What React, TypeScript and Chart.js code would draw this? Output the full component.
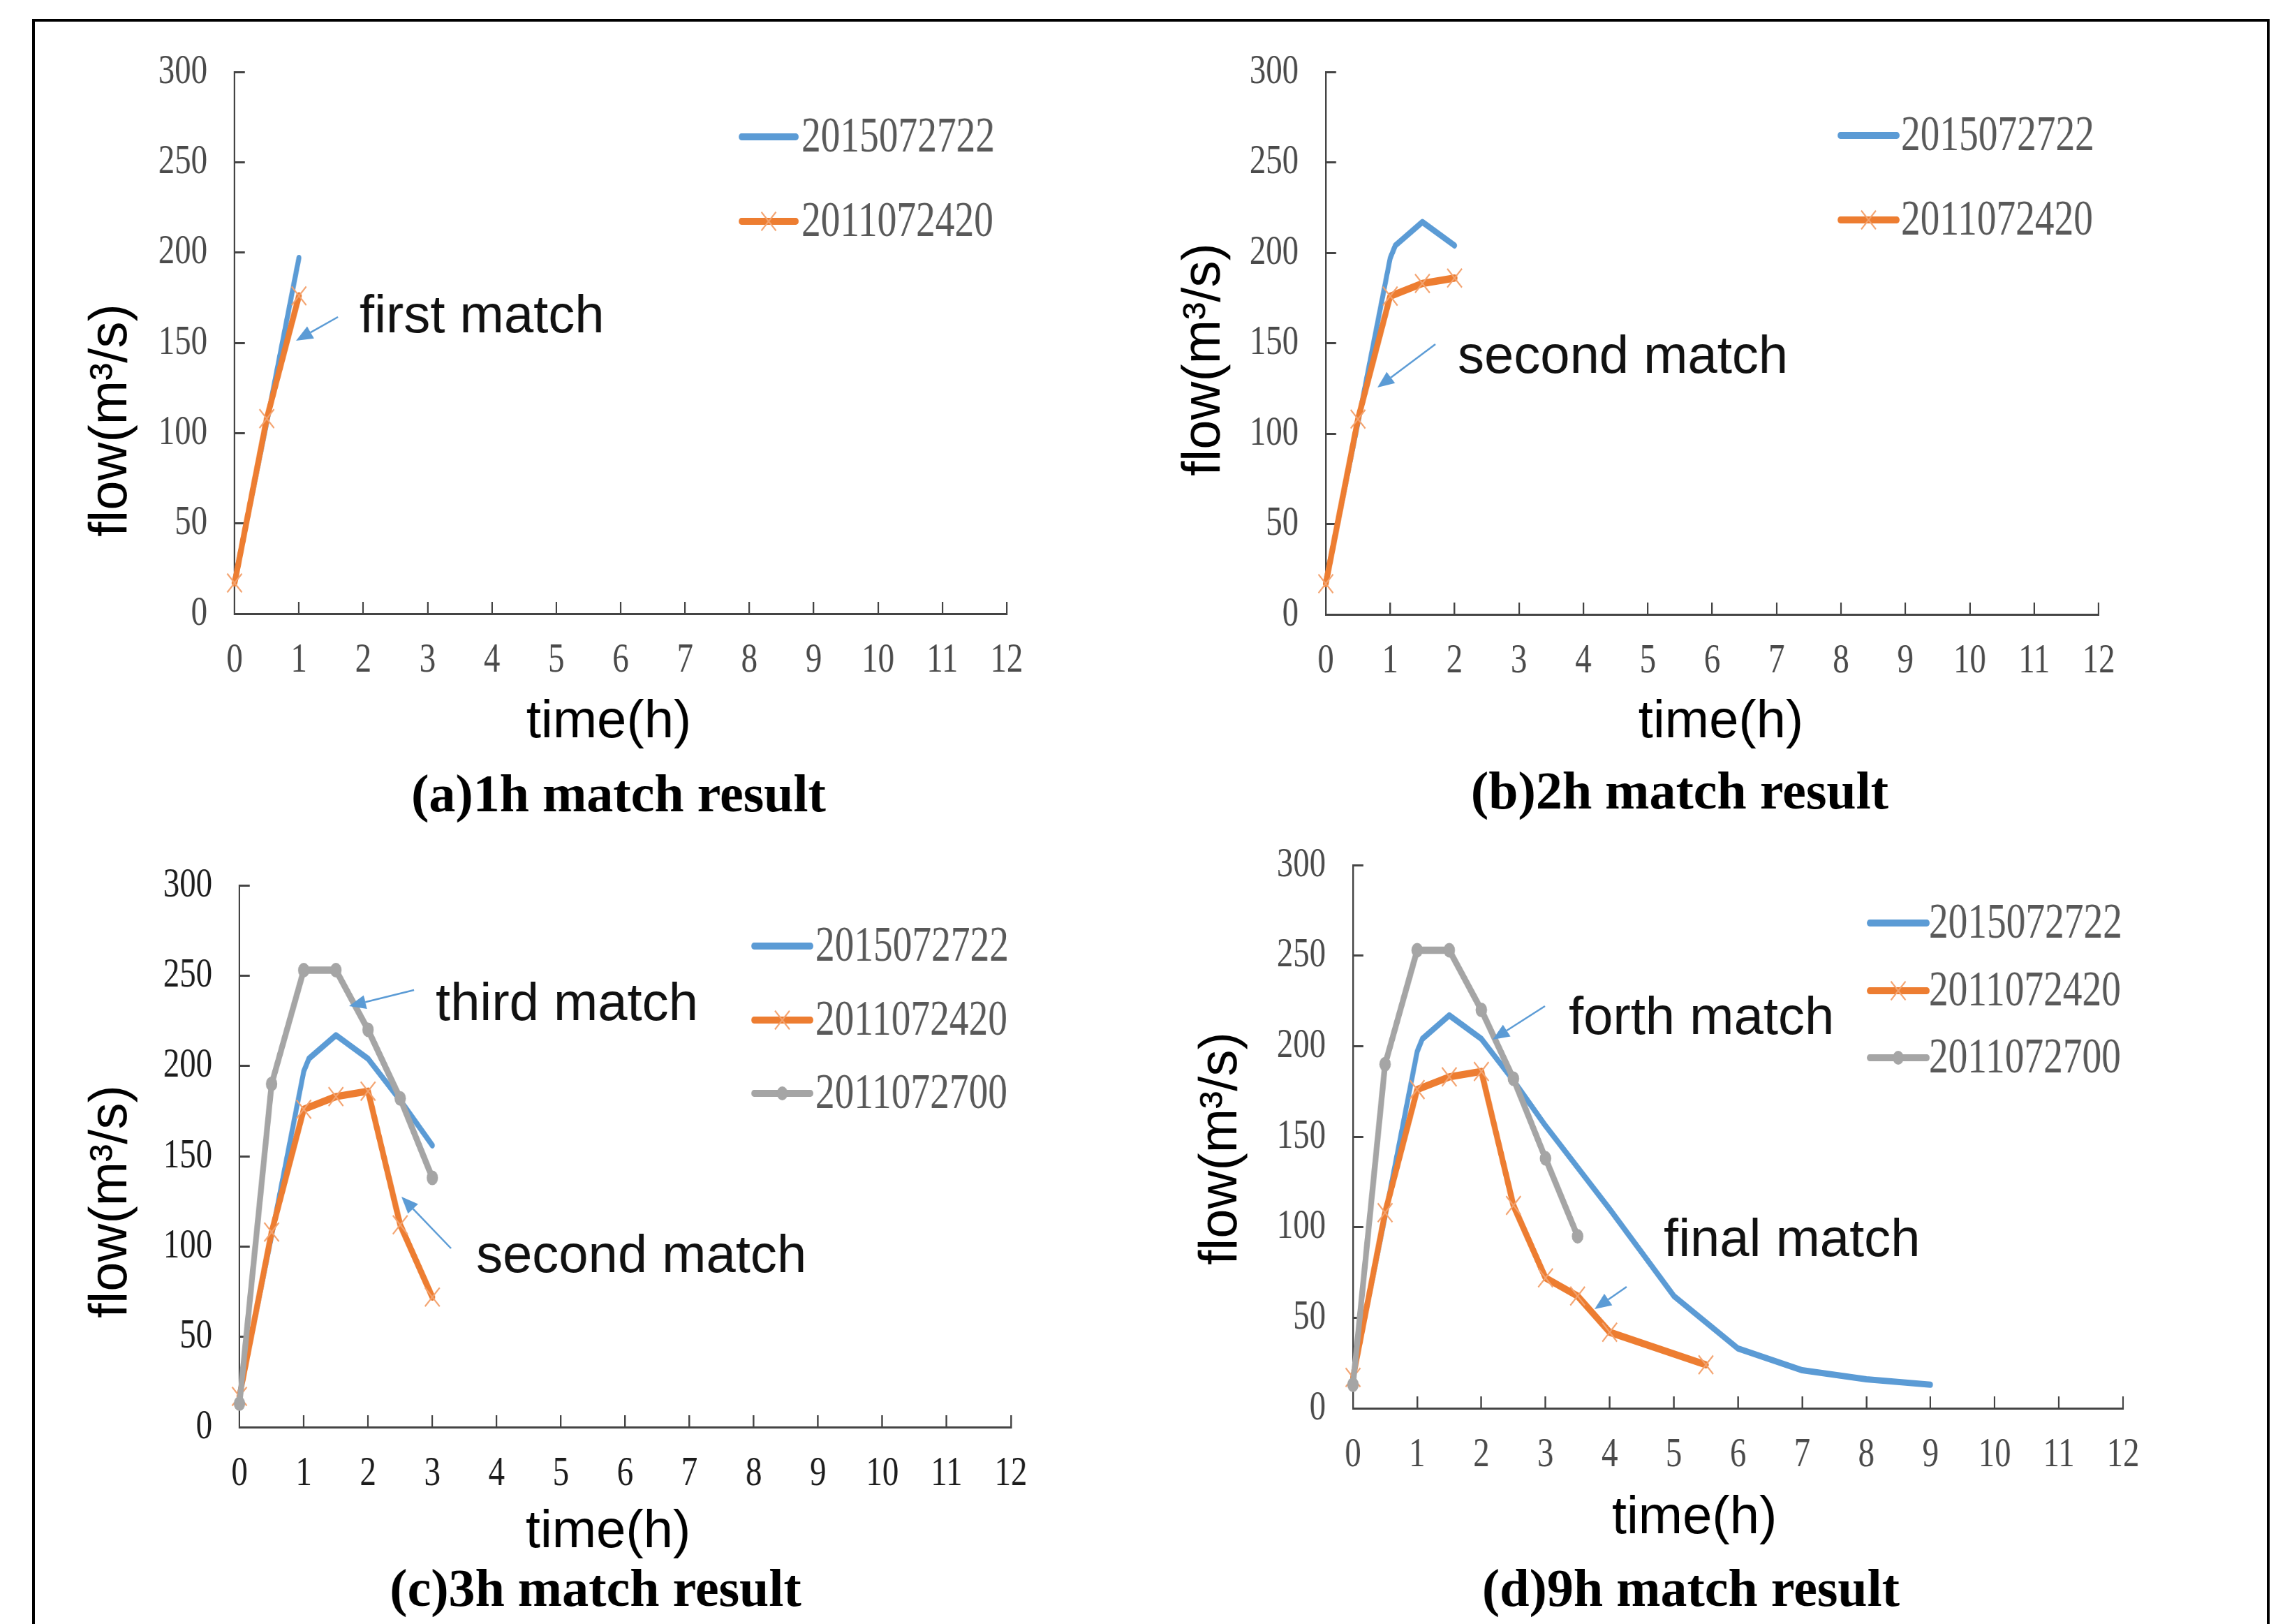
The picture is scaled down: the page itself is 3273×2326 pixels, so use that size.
import React, { useEffect, useRef } from "react";
import { Chart, registerables } from "chart.js";

Chart.register(...registerables);

// ---------------- data ----------------
const seriesNames = ["2015072722", "2011072420", "2011072700"];

const timeTicks = [0, 1, 2, 3, 4, 5, 6, 7, 8, 9, 10, 11, 12];
const flowTicks = [0, 50, 100, 150, 200, 250, 300];

const blueTimes = [0, 0.5, 1, 1.08, 1.5, 2, 2.5, 3, 4, 5, 6, 7, 8, 9];
const blueFlow = [18, 106, 197, 204, 217, 204, 181, 156, 110, 62, 33, 21, 16, 13];

const orangeTimes = [0, 0.5, 1, 1.5, 2, 2.5, 3, 3.5, 4, 5.5];
const orangeFlow = [17, 108, 176, 183, 186, 112, 72, 62, 42, 24];

const grayTimes = [0, 0.5, 1, 1.5, 2, 2.5, 3, 3.5];
const grayFlow = [13, 190, 253, 253, 220, 182, 138, 95];

// ---------------- styling ----------------
const PAGE_W = 3273;
const PAGE_H = 2326;
const SX = 0.78; // horizontal squeeze of the original chart graphics
const Y_BOX = 200;
const X_BOX = 120;

const BLUE = "#5B9BD5";
const ORANGE = "#ED7D31";
const ORANGE_MARK = "#F3A26E";
const GRAY = "#A5A5A5";
const AXIS = "#444444";
const SERIES_COLORS = [BLUE, ORANGE, GRAY];

type Note = { text: string; x: number; baseline: number; arrow: [number, number, number, number] };
type Panel = {
  id: string;
  qx: number; qy: number; qw: number; qh: number;
  maxT: number;
  nSeries: number;
  x0: number; x12: number; y0: number; y300: number;
  tickColor: string;
  legendLine: [number, number];
  legendTextX: number;
  legendRows: number[];
  notes: Note[];
  timeTitle: [number, number];
  flowTitle: [number, number];
  caption: string;
  captionPos: [number, number];
};

const panels: Panel[] = [
  {
    id: "a", qx: 0, qy: 0, qw: 1636, qh: 1190, maxT: 1, nSeries: 2,
    x0: 336, x12: 1442, y0: 879, y300: 103, tickColor: "#4a4a4a",
    legendLine: [1062, 1140], legendTextX: 1148, legendRows: [196, 317],
    notes: [{ text: "first match", x: 515, baseline: 476, arrow: [484, 454, 424, 488] }],
    timeTitle: [872, 1035], flowTitle: [160, 602],
    caption: "(a)1h match result", captionPos: [886, 1142],
  },
  {
    id: "b", qx: 1636, qy: 0, qw: 1637, qh: 1190, maxT: 2, nSeries: 2,
    x0: 1899, x12: 3006, y0: 880, y300: 103, tickColor: "#4a4a4a",
    legendLine: [2636, 2717], legendTextX: 2723, legendRows: [194, 315],
    notes: [{ text: "second match", x: 2088, baseline: 534, arrow: [2056, 493, 1973, 555] }],
    timeTitle: [2465, 1035], flowTitle: [1726, 515],
    caption: "(b)2h match result", captionPos: [2406, 1138],
  },
  {
    id: "c", qx: 0, qy: 1190, qw: 1636, qh: 1136, maxT: 3, nSeries: 3,
    x0: 343, x12: 1448, y0: 2044, y300: 1268, tickColor: "#1c1c1c",
    legendLine: [1080, 1161], legendTextX: 1168, legendRows: [1355, 1461, 1566],
    notes: [
      { text: "third match", x: 624, baseline: 1461, arrow: [593, 1418, 500, 1441] },
      { text: "second match", x: 682, baseline: 1822, arrow: [646, 1788, 575, 1714] },
    ],
    timeTitle: [871, 2195], flowTitle: [160, 1721],
    caption: "(c)3h match result", captionPos: [853, 2280],
  },
  {
    id: "d", qx: 1636, qy: 1190, qw: 1637, qh: 1136, maxT: 9, nSeries: 3,
    x0: 1938, x12: 3041, y0: 2017, y300: 1239, tickColor: "#4a4a4a",
    legendLine: [2678, 2760], legendTextX: 2763, legendRows: [1322, 1419, 1515],
    notes: [
      { text: "forth match", x: 2247, baseline: 1481, arrow: [2213, 1441, 2138, 1489] },
      { text: "final match", x: 2383, baseline: 1799, arrow: [2330, 1843, 2284, 1875] },
    ],
    timeTitle: [2427, 2175], flowTitle: [1750, 1645],
    caption: "(d)9h match result", captionPos: [2422, 2280],
  },
];

function pointsUpTo(times: number[], flows: number[], maxT: number) {
  const pts: { x: number; y: number }[] = [];
  for (let i = 0; i < times.length; i++) {
    if (times[i] <= maxT + 1e-9) pts.push({ x: times[i], y: flows[i] });
  }
  return pts;
}

function overlayPlugin(p: Panel, sx: number) {
  return {
    id: "overlay_" + p.id,
    afterDraw(chart: any) {
      const ctx: CanvasRenderingContext2D = chart.ctx;
      const cx = (px: number) => (px - p.qx) / sx;
      const cy = (py: number) => py - p.qy;

      // legend (drawn in squeezed chart space)
      ctx.save();
      for (let i = 0; i < p.nSeries; i++) {
        const y = cy(p.legendRows[i]);
        const x1 = cx(p.legendLine[0]);
        const x2 = cx(p.legendLine[1]);
        ctx.strokeStyle = SERIES_COLORS[i];
        ctx.lineWidth = 10;
        ctx.lineCap = "round";
        ctx.beginPath();
        ctx.moveTo(x1, y);
        ctx.lineTo(x2, y);
        ctx.stroke();
        const mx = (x1 + x2) / 2;
        if (i === 1) {
          const r = 19 * Math.SQRT1_2;
          ctx.strokeStyle = ORANGE_MARK;
          ctx.lineWidth = 2.5;
          ctx.lineCap = "butt";
          ctx.beginPath();
          ctx.moveTo(mx - r, y - r);
          ctx.lineTo(mx + r, y + r);
          ctx.moveTo(mx - r, y + r);
          ctx.lineTo(mx + r, y - r);
          ctx.stroke();
        } else if (i === 2) {
          ctx.fillStyle = GRAY;
          ctx.beginPath();
          ctx.arc(mx, y, 10, 0, Math.PI * 2);
          ctx.fill();
        }
        ctx.fillStyle = "#595959";
        ctx.font = '71px "Liberation Serif", "Times New Roman", serif';
        ctx.textAlign = "left";
        ctx.textBaseline = "middle";
        ctx.fillText(seriesNames[i], cx(p.legendTextX), y + 2);
      }
      ctx.restore();

      // unsqueezed texts and arrows, in page coordinates
      ctx.save();
      ctx.scale(1 / sx, 1);
      ctx.translate(-p.qx, -p.qy);

      const sans = '76px "Liberation Sans", Arial, sans-serif';
      for (const n of p.notes) {
        ctx.fillStyle = "#111111";
        ctx.font = sans;
        ctx.textAlign = "left";
        ctx.textBaseline = "alphabetic";
        ctx.fillText(n.text, n.x, n.baseline);

        const [ax1, ay1, ax2, ay2] = n.arrow;
        const ang = Math.atan2(ay2 - ay1, ax2 - ax1);
        const head = 24;
        const hw = 10;
        const bx = ax2 - head * Math.cos(ang);
        const by = ay2 - head * Math.sin(ang);
        ctx.strokeStyle = BLUE;
        ctx.lineWidth = 2.5;
        ctx.beginPath();
        ctx.moveTo(ax1, ay1);
        ctx.lineTo(bx, by);
        ctx.stroke();
        ctx.fillStyle = BLUE;
        ctx.beginPath();
        ctx.moveTo(ax2, ay2);
        ctx.lineTo(bx + hw * Math.sin(ang), by - hw * Math.cos(ang));
        ctx.lineTo(bx - hw * Math.sin(ang), by + hw * Math.cos(ang));
        ctx.closePath();
        ctx.fill();
      }

      // axis titles
      ctx.fillStyle = "#000000";
      ctx.font = sans;
      ctx.textAlign = "center";
      ctx.textBaseline = "middle";
      ctx.fillText("time(h)", p.timeTitle[0], p.timeTitle[1]);

      ctx.save();
      ctx.translate(p.flowTitle[0], p.flowTitle[1]);
      ctx.rotate(-Math.PI / 2);
      ctx.fillText("flow(m\u00B3/s)", 0, 0);
      ctx.restore();

      // caption
      ctx.font = 'bold 76px "Liberation Serif", "Times New Roman", serif';
      ctx.fillStyle = "#000000";
      ctx.textAlign = "center";
      ctx.textBaseline = "middle";
      ctx.fillText(p.caption, p.captionPos[0], p.captionPos[1]);

      ctx.restore();
    },
  };
}

function buildConfig(p: Panel, cw: number, sx: number): any {
  const sets = [
    { times: blueTimes, flows: blueFlow },
    { times: orangeTimes, flows: orangeFlow },
    { times: grayTimes, flows: grayFlow },
  ];
  const datasets: any[] = [];
  for (let i = 0; i < p.nSeries; i++) {
    const base: any = {
      label: seriesNames[i],
      data: pointsUpTo(sets[i].times, sets[i].flows, p.maxT),
      showLine: true,
      borderColor: SERIES_COLORS[i],
      borderCapStyle: "round",
      borderJoinStyle: "round",
      clip: false,
    };
    if (i === 0) {
      Object.assign(base, { borderWidth: 9, pointRadius: 0, order: 3 });
    } else if (i === 1) {
      Object.assign(base, {
        borderWidth: 10.5, order: 2, pointStyle: "crossRot", pointRadius: 19,
        pointBorderColor: ORANGE_MARK, pointBorderWidth: 2.5, pointBackgroundColor: "rgba(0,0,0,0)",
      });
    } else {
      Object.assign(base, {
        borderWidth: 10.5, order: 1, pointStyle: "circle", pointRadius: 10.5,
        pointBorderWidth: 0, pointBackgroundColor: GRAY, pointBorderColor: GRAY,
      });
    }
    datasets.push(base);
  }

  const tickFont = { family: '"Liberation Serif", "Times New Roman", serif', size: 60 };
  const padLeft = (p.x0 - p.qx) / sx - Y_BOX;
  const padRight = cw - (p.x12 - p.qx) / sx;
  const padTop = p.y300 - p.qy;
  const padBottom = p.qh - (p.y0 - p.qy) - X_BOX;

  return {
    type: "scatter",
    data: { datasets },
    options: {
      responsive: false,
      maintainAspectRatio: false,
      animation: false,
      devicePixelRatio: 1,
      events: [],
      layout: { padding: { left: padLeft, right: padRight, top: padTop, bottom: padBottom } },
      plugins: {
        legend: { display: false },
        tooltip: { enabled: false },
        title: { display: false },
      },
      scales: {
        x: {
          type: "linear",
          position: "bottom",
          min: 0,
          max: 12,
          afterBuildTicks: (s: any) => {
            s.ticks = timeTicks.map((v) => ({ value: v }));
          },
          afterFit: (s: any) => {
            s.height = X_BOX;
            s.paddingLeft = 5;
            s.paddingRight = 5;
          },
          ticks: {
            font: tickFont,
            color: p.tickColor,
            padding: 48,
            autoSkip: false,
            maxRotation: 0,
            minRotation: 0,
            callback: (v: any) => String(v),
          },
          grid: { drawOnChartArea: false, drawTicks: true, tickLength: -17, color: AXIS, lineWidth: 3 },
          border: { display: true, color: AXIS, width: 3 },
        },
        y: {
          type: "linear",
          position: "left",
          min: 0,
          max: 300,
          afterBuildTicks: (s: any) => {
            s.ticks = flowTicks.map((v) => ({ value: v }));
          },
          afterFit: (s: any) => {
            s.width = Y_BOX;
            s.paddingTop = 5;
            s.paddingBottom = 5;
          },
          ticks: {
            font: tickFont,
            color: p.tickColor,
            padding: 69,
            autoSkip: false,
            callback: (v: any) => String(v),
          },
          grid: { drawOnChartArea: false, drawTicks: true, tickLength: -19, color: AXIS, lineWidth: 3 },
          border: { display: true, color: AXIS, width: 3 },
        },
      },
    },
    plugins: [overlayPlugin(p, sx)],
  };
}

function PanelChart({ p }: { p: Panel }) {
  const ref = useRef<HTMLCanvasElement | null>(null);
  const cw = Math.round(p.qw / SX);
  const sx = p.qw / cw;
  useEffect(() => {
    const canvas = ref.current;
    if (!canvas) return;
    const chart = new Chart(canvas, buildConfig(p, cw, sx));
    return () => chart.destroy();
  }, [p, cw, sx]);
  return (
    <canvas
      ref={ref}
      width={cw}
      height={p.qh}
      style={{ position: "absolute", left: p.qx, top: p.qy, width: p.qw, height: p.qh }}
    />
  );
}

export default function App() {
  return (
    <div
      style={{
        position: "absolute",
        left: 0,
        top: 0,
        width: PAGE_W,
        height: PAGE_H,
        overflow: "hidden",
        background: "#ffffff",
      }}
    >
      <div
        style={{
          position: "absolute",
          left: 46,
          top: 27,
          width: 3251 - 46,
          height: 2500,
          border: "4px solid #000000",
          borderBottom: "none",
          boxSizing: "border-box",
        }}
      />
      {panels.map((p) => (
        <PanelChart key={p.id} p={p} />
      ))}
    </div>
  );
}
